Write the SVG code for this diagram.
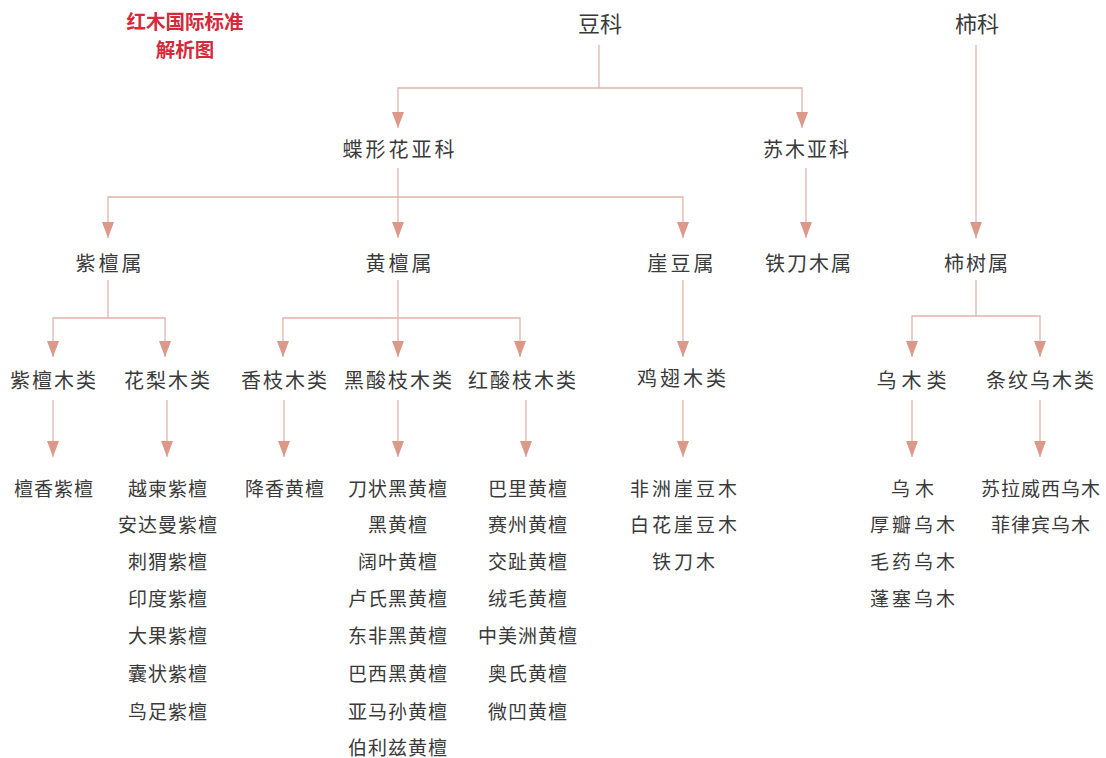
<svg xmlns="http://www.w3.org/2000/svg" width="1106" height="758" viewBox="0 0 1106 758">
<style>
text{font-family:"Noto Sans CJK SC","Noto Sans CJK TC",sans-serif;fill:#3a3a3a;text-anchor:middle;dominant-baseline:central}
.t{font-size:19.5px;font-weight:bold;fill:#d42a3c}
.h{font-size:22px}
.n{font-size:20px;letter-spacing:2px}
.l{font-size:19px;letter-spacing:1px}
.w{letter-spacing:3px}
.ww{letter-spacing:5px}
.c{fill:none;stroke:#e0b4ac;stroke-width:1.3}
</style>
<defs>
<marker id="ah" viewBox="0 -6 16 12" refX="16" refY="0" markerWidth="16" markerHeight="12" markerUnits="userSpaceOnUse" orient="auto">
<path d="M0,-6 L16,0 L0,6 z" fill="#dc9888"/>
</marker>
</defs>
<rect width="1106" height="758" fill="#ffffff"/>
<g id="title">
<text class="t" x="185" y="20">红木国际标准</text>
<text class="t" x="185" y="48">解析图</text>
</g>
<g id="connectors">
<path class="c" d="M599,45 V88"/>
<path class="c" d="M599,88 H398 V128" marker-end="url(#ah)"/>
<path class="c" d="M599,88 H802 V128" marker-end="url(#ah)"/>
<path class="c" d="M976,45 V238" marker-end="url(#ah)"/>
<path class="c" d="M398,168 V197"/>
<path class="c" d="M398,197 H108 V238" marker-end="url(#ah)"/>
<path class="c" d="M398,197 V238" marker-end="url(#ah)"/>
<path class="c" d="M398,197 H683 V238" marker-end="url(#ah)"/>
<path class="c" d="M806,168 V238" marker-end="url(#ah)"/>
<path class="c" d="M108,280 V318"/>
<path class="c" d="M108,318 H53 V357" marker-end="url(#ah)"/>
<path class="c" d="M108,318 H165 V357" marker-end="url(#ah)"/>
<path class="c" d="M398,280 V318"/>
<path class="c" d="M398,318 H283 V357" marker-end="url(#ah)"/>
<path class="c" d="M398,318 V357" marker-end="url(#ah)"/>
<path class="c" d="M398,318 H520 V357" marker-end="url(#ah)"/>
<path class="c" d="M683,280 V357" marker-end="url(#ah)"/>
<path class="c" d="M976,280 V316"/>
<path class="c" d="M976,316 H912 V357" marker-end="url(#ah)"/>
<path class="c" d="M976,316 H1040 V357" marker-end="url(#ah)"/>
<path class="c" d="M53,400 V457" marker-end="url(#ah)"/>
<path class="c" d="M167,400 V457" marker-end="url(#ah)"/>
<path class="c" d="M284,400 V457" marker-end="url(#ah)"/>
<path class="c" d="M398,400 V457" marker-end="url(#ah)"/>
<path class="c" d="M526,400 V457" marker-end="url(#ah)"/>
<path class="c" d="M683,400 V457" marker-end="url(#ah)"/>
<path class="c" d="M912,400 V457" marker-end="url(#ah)"/>
<path class="c" d="M1040,400 V457" marker-end="url(#ah)"/>
</g>
<g id="n-douke"><text class="h" x="600" y="22">豆科</text></g>
<g id="n-shike"><text class="h" x="977" y="22">柿科</text></g>
<g id="n-dieyinghua"><text class="n w" x="400" y="148">蝶形花亚科</text></g>
<g id="n-sumu"><text class="n" x="807" y="148">苏木亚科</text></g>
<g id="n-zitanshu"><text class="n w" x="110" y="262">紫檀属</text></g>
<g id="n-huangtanshu"><text class="n w" x="400" y="262">黄檀属</text></g>
<g id="n-yadoushu"><text class="n w" x="682" y="262">崖豆属</text></g>
<g id="n-tiedaomushu"><text class="n" x="809" y="262">铁刀木属</text></g>
<g id="n-shishushu"><text class="n" x="977" y="262">柿树属</text></g>
<g id="n-zitanmu"><text class="n" x="54" y="379">紫檀木类</text></g>
<g id="n-hualimu"><text class="n" x="168" y="379">花梨木类</text></g>
<g id="n-xiangzhimu"><text class="n" x="285" y="379">香枝木类</text></g>
<g id="n-heisuanzhi"><text class="n" x="399" y="379">黑酸枝木类</text></g>
<g id="n-hongsuanzhi"><text class="n" x="523" y="379">红酸枝木类</text></g>
<g id="n-jichimu"><text class="n w" x="683" y="377">鸡翅木类</text></g>
<g id="n-wumu"><text class="n ww" x="914" y="379">乌木类</text></g>
<g id="n-tiaowen"><text class="n" x="1041" y="379">条纹乌木类</text></g>
<g id="l-zitan"><text class="l" x="54" y="487">檀香紫檀</text></g>
<g id="l-huali">
<text class="l" x="168" y="487">越柬紫檀</text>
<text class="l" x="168" y="523">安达曼紫檀</text>
<text class="l" x="168" y="560">刺猬紫檀</text>
<text class="l" x="168" y="597">印度紫檀</text>
<text class="l" x="168" y="634">大果紫檀</text>
<text class="l" x="168" y="672">囊状紫檀</text>
<text class="l" x="168" y="710">鸟足紫檀</text>
</g>
<g id="l-xiangzhi"><text class="l" x="285" y="487">降香黄檀</text></g>
<g id="l-heisuan">
<text class="l" x="398" y="487">刀状黑黄檀</text>
<text class="l" x="398" y="523">黑黄檀</text>
<text class="l" x="398" y="560">阔叶黄檀</text>
<text class="l" x="398" y="597">卢氏黑黄檀</text>
<text class="l" x="398" y="634">东非黑黄檀</text>
<text class="l" x="398" y="672">巴西黑黄檀</text>
<text class="l" x="398" y="710">亚马孙黄檀</text>
<text class="l" x="398" y="746">伯利兹黄檀</text>
</g>
<g id="l-hongsuan">
<text class="l" x="528" y="487">巴里黄檀</text>
<text class="l" x="528" y="523">赛州黄檀</text>
<text class="l" x="528" y="560">交趾黄檀</text>
<text class="l" x="528" y="597">绒毛黄檀</text>
<text class="l" x="528" y="634">中美洲黄檀</text>
<text class="l" x="528" y="672">奥氏黄檀</text>
<text class="l" x="528" y="710">微凹黄檀</text>
</g>
<g id="l-jichi">
<text class="l w" x="685" y="487">非洲崖豆木</text>
<text class="l w" x="685" y="523">白花崖豆木</text>
<text class="l w" x="685" y="560">铁刀木</text>
</g>
<g id="l-wumu">
<text class="l ww" x="915" y="487">乌木</text>
<text class="l w" x="914" y="523">厚瓣乌木</text>
<text class="l w" x="914" y="560">毛药乌木</text>
<text class="l w" x="914" y="597">蓬塞乌木</text>
</g>
<g id="l-tiaowen">
<text class="l" x="1041" y="487">苏拉威西乌木</text>
<text class="l" x="1041" y="523">菲律宾乌木</text>
</g>
</svg>
